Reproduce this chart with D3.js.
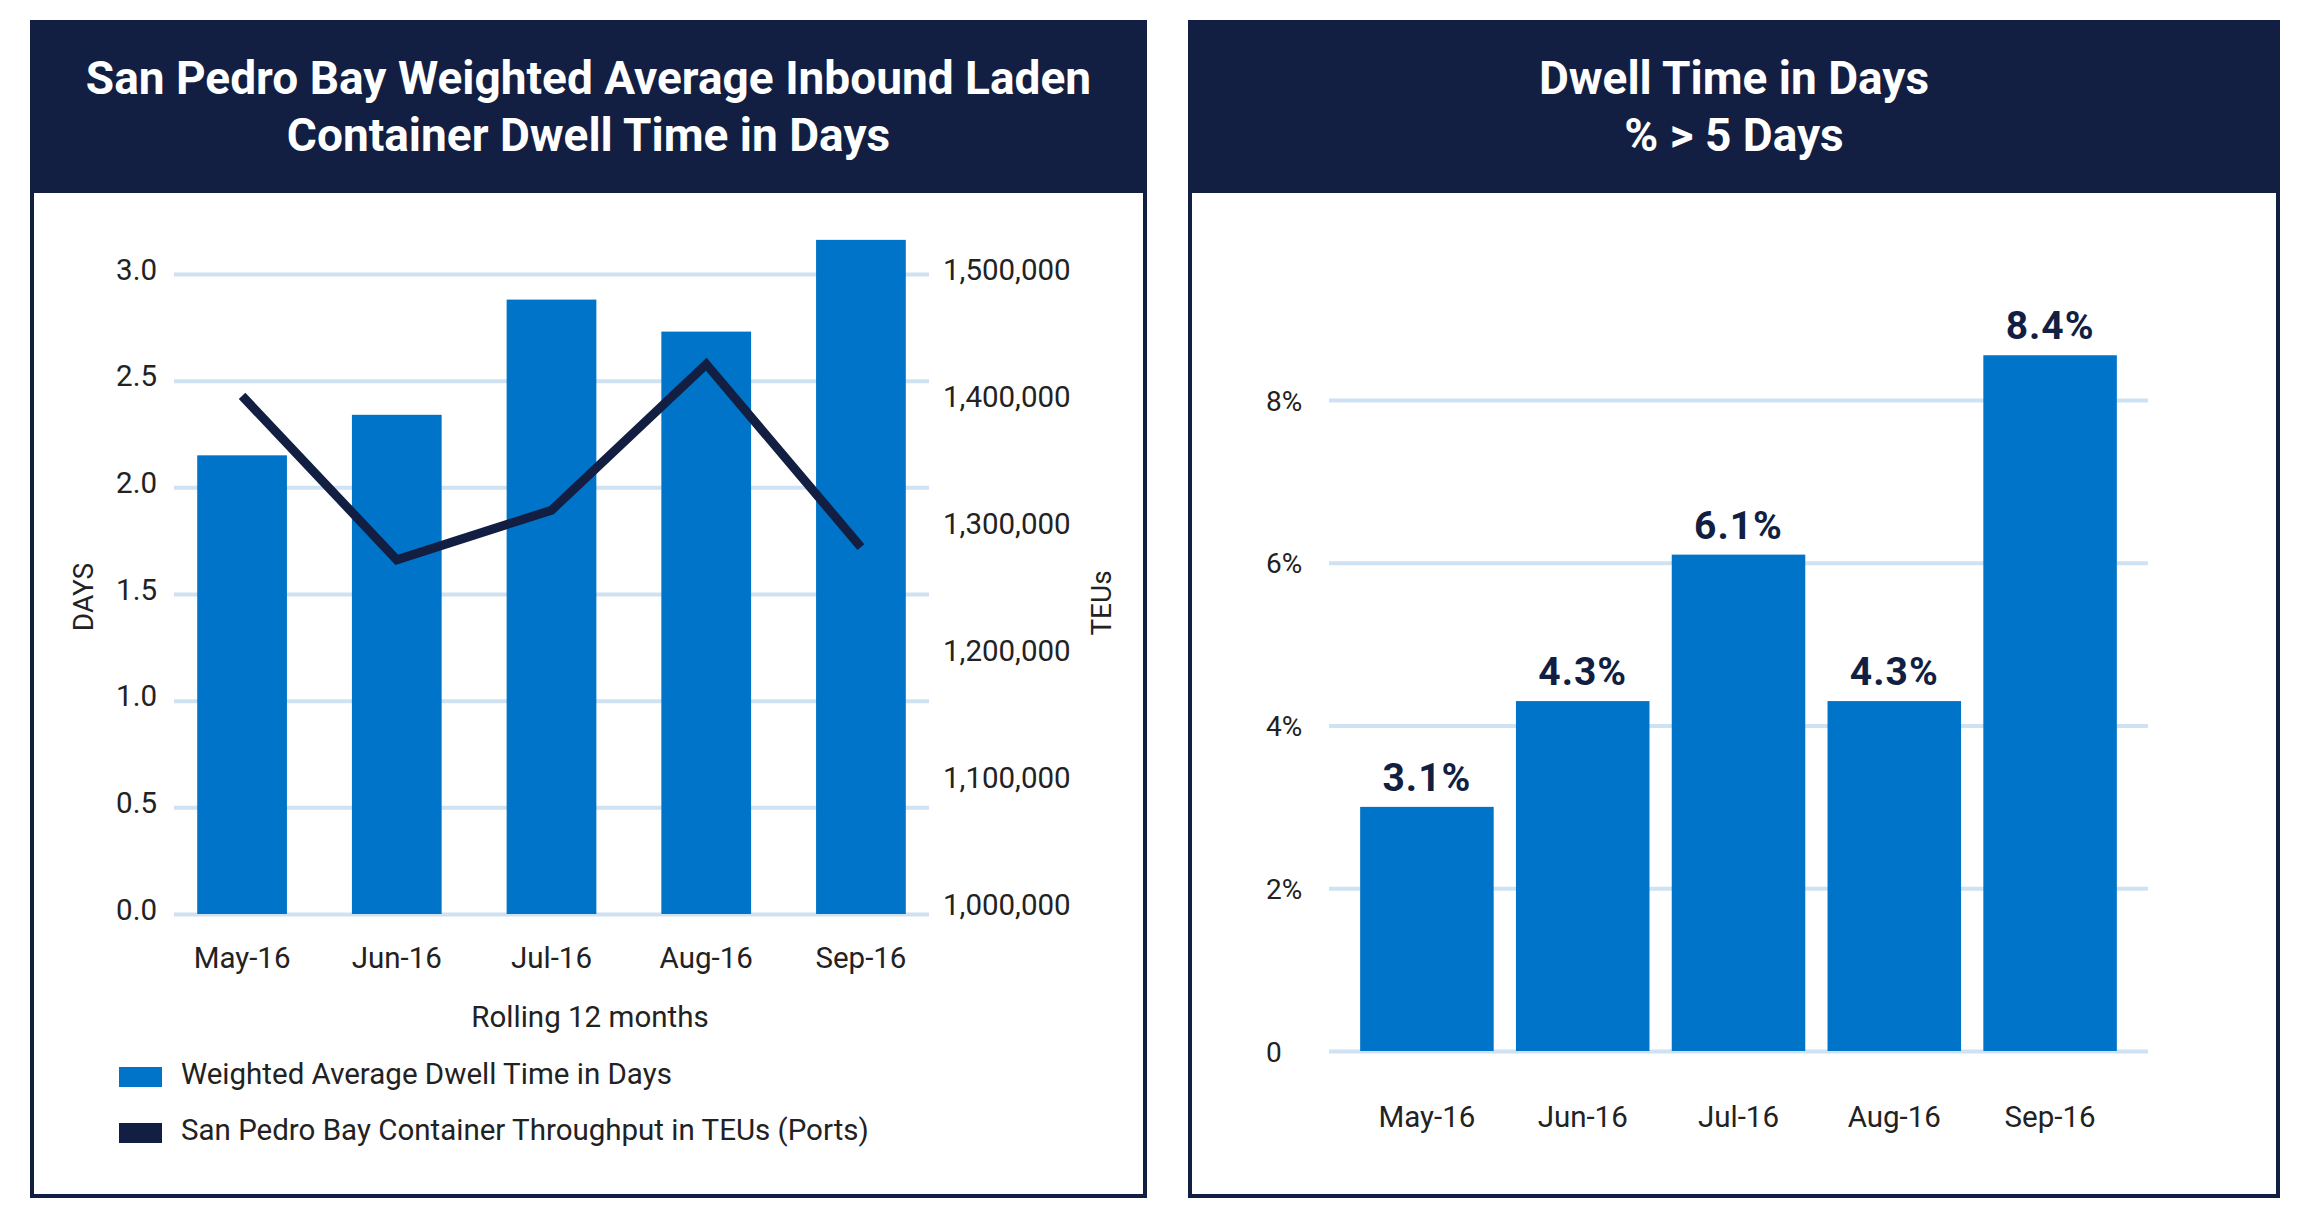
<!DOCTYPE html>
<html>
<head>
<meta charset="utf-8">
<script src="https://cdn.jsdelivr.net/npm/d3@7"></script>
<style>
  body { margin: 0; background: #fff; }
  text { font-family: Roboto, "Noto Sans", sans-serif; }
</style>
</head>
<body>
<svg id="canvas" width="2306" height="1228"></svg>
<script>
// data
let months = ['May-16', 'Jun-16', 'Jul-16', 'Aug-16', 'Sep-16'];
let dwellDays = [2.15, 2.34, 2.88, 2.73, 3.16];
let teus = [1404000, 1275000, 1314000, 1429000, 1285000];
let daysTicks = [0, 0.5, 1, 1.5, 2, 2.5, 3];
let teuTicks = [1000000, 1100000, 1200000, 1300000, 1400000, 1500000];
let pctOver5 = [3.0, 4.3, 6.1, 4.3, 8.55];
let pctLabels = ['3.1%', '4.3%', '6.1%', '4.3%', '8.4%'];
let pctTicks = [0, 2, 4, 6, 8];
let legendItems = ['Weighted Average Dwell Time in Days', 'San Pedro Bay Container Throughput in TEUs (Ports)'];

let navy = '#121f42';
let blue = '#0074c8';
let grid = '#cfe2f4';
let ink = '#222';
let fs = 29.5;

let canvas = d3.select('#canvas');

let drawPanel = (x0, x1, titleLines) => {
  let g = canvas.append('g');
  g.append('rect')
    .attr('x', x0 + 2).attr('y', 22)
    .attr('width', x1 - x0 - 4).attr('height', 1174)
    .attr('fill', '#fff')
    .attr('stroke', navy)
    .attr('stroke-width', 4);
  g.append('rect')
    .attr('x', x0).attr('y', 20)
    .attr('width', x1 - x0).attr('height', 173)
    .attr('fill', navy);
  g.selectAll('text.title')
    .data(titleLines)
    .enter()
    .append('text')
    .attr('class', 'title')
    .attr('x', (x0 + x1) / 2)
    .attr('y', (d, i) => 94 + i * 57)
    .attr('text-anchor', 'middle')
    .attr('fill', '#fff')
    .attr('font-size', 46)
    .attr('font-weight', 700)
    .text(d => d);
};

let styleAxis = (axisG) => {
  axisG.select('.domain').remove();
  axisG.selectAll('text')
    .attr('fill', ink)
    .attr('font-size', fs)
    .attr('font-family', 'Roboto, sans-serif');
};

// ---------- left chart ----------
let drawLeft = () => {
  drawPanel(30, 1147, ['San Pedro Bay Weighted Average Inbound Laden', 'Container Dwell Time in Days']);

  let x = d3.scaleBand().domain(months).range([174, 929]).paddingInner(0.42).paddingOuter(0.15);
  let y = d3.scaleLinear().domain([0, 3]).range([914, 274]);
  let y2 = d3.scaleLinear().domain([1000000, 1500000]).range([909, 274]);

  let yAxis = canvas.append('g')
    .attr('transform', 'translate(174,0)')
    .call(d3.axisLeft(y).tickValues(daysTicks).tickFormat(d3.format('.1f'))
      .tickSizeInner(-(929 - 174)).tickSizeOuter(0).tickPadding(17));
  styleAxis(yAxis);
  yAxis.selectAll('line').attr('stroke', grid).attr('stroke-width', 4);
  yAxis.selectAll('text').attr('dy', 5);

  let y2Axis = canvas.append('g')
    .attr('transform', 'translate(928,0)')
    .call(d3.axisRight(y2).tickValues(teuTicks).tickFormat(d3.format(','))
      .tickSize(0).tickPadding(15));
  styleAxis(y2Axis);
  y2Axis.selectAll('text').attr('dy', 5);

  let xAxis = canvas.append('g')
    .attr('transform', 'translate(0,914)')
    .call(d3.axisBottom(x).tickSize(0));
  styleAxis(xAxis);
  xAxis.selectAll('text').attr('y', 54).attr('dy', 0);

  canvas.append('g').selectAll('rect')
    .data(dwellDays)
    .enter()
    .append('rect')
    .attr('x', (d, i) => x(months[i]))
    .attr('y', d => y(d))
    .attr('width', x.bandwidth())
    .attr('height', d => y(0) - y(d))
    .attr('fill', blue);

  let line = d3.line()
    .x((d, i) => x(months[i]) + x.bandwidth() / 2)
    .y(d => y2(d));

  canvas.append('path')
    .datum(teus)
    .attr('d', line)
    .attr('fill', 'none')
    .attr('stroke', navy)
    .attr('stroke-width', 9)
    .attr('stroke-linejoin', 'miter');

  canvas.append('text')
    .attr('transform', 'translate(93,597) rotate(-90)')
    .attr('text-anchor', 'middle')
    .attr('font-size', 28)
    .attr('fill', ink)
    .text('DAYS');

  canvas.append('text')
    .attr('transform', 'translate(1111,603) rotate(-90)')
    .attr('text-anchor', 'middle')
    .attr('font-size', 28)
    .attr('fill', ink)
    .text('TEUs');

  canvas.append('text')
    .attr('x', 590).attr('y', 1027)
    .attr('text-anchor', 'middle')
    .attr('font-size', fs)
    .attr('fill', ink)
    .text('Rolling 12 months');

  let legend = canvas.append('g').selectAll('g')
    .data(legendItems)
    .enter()
    .append('g')
    .attr('transform', (d, i) => 'translate(119,' + (1067 + i * 56) + ')');
  legend.append('rect')
    .attr('width', 43).attr('height', 20)
    .attr('fill', (d, i) => i === 0 ? blue : navy);
  legend.append('text')
    .attr('x', 62).attr('y', 17)
    .attr('font-size', fs)
    .attr('fill', ink)
    .text(d => d);
};

// ---------- right chart ----------
let drawRight = () => {
  drawPanel(1188, 2280, ['Dwell Time in Days', '% > 5 Days']);

  let x = d3.scaleBand().domain(months).range([1329, 2148]).paddingInner(0.143).paddingOuter(0.2);
  let y = d3.scaleLinear().domain([0, 8]).range([1051, 400]);

  let yAxis = canvas.append('g')
    .attr('transform', 'translate(1329,0)')
    .call(d3.axisLeft(y).tickValues(pctTicks).tickFormat(d => d === 0 ? '0' : d + '%')
      .tickSizeInner(-(2148 - 1329)).tickSizeOuter(0));
  styleAxis(yAxis);
  yAxis.selectAll('line').attr('stroke', grid).attr('stroke-width', 4);
  // labels in the reference are left aligned
  yAxis.selectAll('text')
    .attr('x', 1266 - 1329)
    .attr('text-anchor', 'start')
    .attr('font-size', 28)
    .attr('dy', 10);

  let xAxis = canvas.append('g')
    .attr('transform', 'translate(0,1051)')
    .call(d3.axisBottom(x).tickSize(0));
  styleAxis(xAxis);
  xAxis.selectAll('text').attr('y', 76).attr('dy', 0);

  canvas.append('g').selectAll('rect')
    .data(pctOver5)
    .enter()
    .append('rect')
    .attr('x', (d, i) => x(months[i]))
    .attr('y', d => y(d))
    .attr('width', x.bandwidth())
    .attr('height', d => y(0) - y(d))
    .attr('fill', blue);

  canvas.append('g').selectAll('text')
    .data(pctOver5)
    .enter()
    .append('text')
    .attr('x', (d, i) => x(months[i]) + x.bandwidth() / 2)
    .attr('y', d => y(d) - 16)
    .attr('text-anchor', 'middle')
    .attr('font-size', 39)
    .attr('font-weight', 700)
    .attr('letter-spacing', 1)
    .attr('fill', navy)
    .text((d, i) => pctLabels[i]);
};

drawLeft();
drawRight();
</script>
</body>
</html>
